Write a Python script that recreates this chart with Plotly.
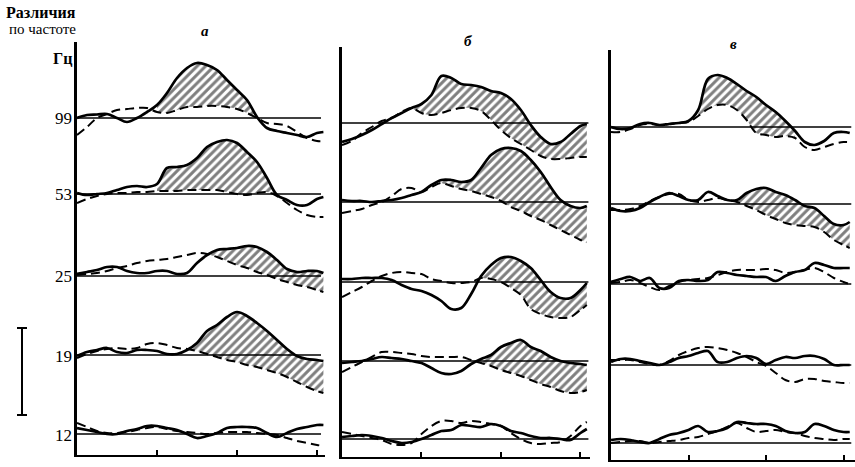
import plotly.graph_objects as go

W, H = 855, 467

# sample times (tick units: ticks at 1, 2, 3)
t = [0, 0.125, 0.25, 0.375, 0.5, 0.625, 0.75, 0.875, 1.0, 1.125, 1.25, 1.375, 1.5,
     1.625, 1.75, 1.875, 2.0, 2.125, 2.25, 2.375, 2.5, 2.625, 2.75, 2.875, 3.0, 3.08]

channels = ["99", "53", "25", "19", "12"]

# ---- panel а: deviations (solid / dashed)
a99_s = [0, 0.6, 0.7, 0.8, 0, -0.8, 0, 1.2, 2.6, 5.0, 8.0, 10.0, 11.0, 10.6, 9.6, 7.6, 5.6, 3.6, 0.2, -2.0, -2.6, -3.0, -3.4, -3.8, -3.0, -2.8]
a99_d = [-3.4, -1.8, 0, 0.8, 1.6, 1.8, 2.0, 2.0, 1.2, 1.0, 1.6, 2.2, 2.2, 2.4, 2.4, 2.2, 1.8, 1.0, 0, -1.0, -1.2, -1.6, -2.8, -4.0, -4.6, -4.6]
a53_s = [0.2, -0.2, 0, 0.2, 0.8, 1.4, 1.6, 1.4, 2.0, 5.2, 5.4, 5.8, 7.2, 9.4, 10.4, 10.8, 10.2, 8.4, 6.4, 3.2, -0.2, -1.2, -2.2, -2.2, -1.0, -0.6]
a53_d = [-1.8, -1.0, -0.4, 0, 0.2, 0.2, 0.4, 0.4, 0.6, 0.6, 0.6, 0.8, 0.8, 0.8, 0.8, 0.4, 0, -0.2, 0.2, 0.4, -0.4, -1.8, -3.2, -4.2, -4.6, -4.6]
a25_s = [0.4, 0.8, 1.2, 1.8, 1.8, 1.0, 0.6, 0.6, 1.0, 1.0, 0.4, 0.6, 2.6, 4.2, 5.2, 5.4, 5.6, 6.0, 5.8, 4.8, 3.2, 1.4, 0.8, 1.0, 1.0, 0.6]
a25_d = [0.2, 0.4, 0.6, 1.0, 1.6, 2.0, 2.6, 3.0, 3.2, 3.4, 3.8, 4.2, 4.6, 4.4, 3.8, 3.0, 2.2, 1.6, 0.8, 0.2, -0.6, -1.2, -1.8, -2.2, -2.8, -3.2]
a19_s = [-0.2, 0.6, 1.0, 1.4, 0.6, 0.4, 1.0, 1.0, 0.8, 0.2, 0.2, 1.0, 2.4, 4.8, 6.0, 7.6, 8.6, 7.8, 6.4, 4.8, 3.0, 1.2, -0.2, -0.8, -1.0, -1.2]
a19_d = [-0.6, 0.2, 0.8, 1.2, 1.4, 1.2, 1.4, 2.2, 2.4, 2.0, 1.4, 1.2, 0.8, 0.2, -0.4, -1.0, -1.4, -2.0, -2.4, -3.0, -3.6, -4.4, -5.4, -6.4, -7.2, -7.6]
a12_s = [1.2, 0.8, 0.4, 0, 0, 0.6, 1.0, 1.6, 1.6, 1.2, 0.8, 0, -0.8, -0.4, 0.2, 1.2, 1.4, 1.4, 1.2, 0.2, -0.6, 0.2, 1.0, 1.4, 1.8, 1.8]
a12_d = [2.2, 1.4, 0.6, 0.2, 0.2, 0.4, 0.8, 1.2, 1.4, 1.0, 0.6, 0.4, 0.2, 0, 0.2, 0.4, 0.4, 0.4, 0.2, 0, -0.2, -0.8, -1.4, -1.8, -2.2, -2.4]

# ---- panel б
b99_s = [-3.8, -3.2, -2.4, -1.4, -0.2, 1.0, 2.0, 3.0, 3.8, 5.6, 9.4, 9.0, 7.8, 7.6, 7.2, 6.4, 6.0, 4.8, 2.6, -0.4, -2.8, -4.2, -3.8, -2.2, -0.6, -0.2]
b99_d = [-4.4, -3.6, -2.0, -0.8, 0.4, 1.0, 2.2, 3.0, 2.0, 1.6, 2.0, 2.6, 3.0, 3.0, 2.4, 0.6, -1.4, -3.0, -4.2, -5.4, -6.6, -7.2, -7.2, -7.0, -6.8, -6.8]
b53_s = [0.4, 0.2, 0.2, 0, 0.2, 0.4, 0.8, 1.4, 2.0, 3.4, 4.4, 4.4, 4.0, 4.4, 6.8, 9.4, 10.6, 10.8, 10.2, 8.4, 6.0, 3.0, 0.4, -0.8, -1.2, -0.8]
b53_d = [-2.2, -1.8, -1.4, -0.6, 0, 1.2, 2.6, 2.8, 2.0, 3.0, 3.8, 3.2, 2.6, 2.2, 1.6, 1.0, 0.2, -1.0, -1.8, -2.8, -3.6, -4.6, -5.6, -6.6, -7.6, -8.2]
b25_s = [0.6, 0.6, 0.8, 0.8, 0.8, 0.4, -0.6, -1.4, -1.8, -2.6, -3.8, -5.4, -5.2, -2.4, 1.2, 3.4, 4.8, 5.0, 4.2, 2.8, 0.4, -2.0, -3.2, -3.2, -1.6, -0.2]
b25_d = [-3.0, -2.0, -1.0, 0.2, 1.2, 1.8, 2.0, 1.8, 1.6, 0.6, 0.2, -0.2, -0.2, 0, 0.8, 0.6, 0, -1.2, -2.6, -5.4, -6.4, -7.0, -7.2, -7.0, -5.6, -4.6]
b19_s = [-0.4, -0.2, 0, 0.4, 0.8, 0.6, 0.4, 0, -0.4, -1.4, -2.4, -2.6, -2.0, -0.6, 0.4, 1.2, 2.8, 3.6, 4.2, 2.8, 2.0, 0.8, 0, -0.4, -0.6, -0.8]
b19_d = [-2.2, -1.2, -0.2, 0.8, 1.8, 1.8, 1.6, 1.4, 1.0, 0.8, 0.8, 0.8, 0.8, 0.2, -0.4, -1.0, -1.8, -2.4, -3.0, -3.8, -4.6, -5.2, -6.0, -6.4, -6.2, -5.8]
b12_s = [0.4, 0.6, 0.8, 0.6, 0.2, -0.4, -0.8, -0.6, 0, 0.8, 1.6, 1.8, 2.8, 2.6, 2.4, 3.0, 2.6, 1.6, 1.2, 0.6, 0.2, 0.2, 0, -0.2, 1.2, 2.0]
b12_d = [1.4, 1.0, 0.6, 0.2, -0.2, -1.0, -1.2, -0.8, 1.0, 2.6, 3.6, 3.6, 3.2, 3.6, 3.4, 3.0, 2.6, 1.2, 0, -0.8, -1.0, -0.8, -0.6, 0.6, 2.6, 3.4]

# ---- panel в
c99_s = [0, -0.4, -0.2, 0.6, 0.8, 0.4, 0.6, 0.8, 1.2, 3.4, 9.6, 10.4, 9.8, 8.6, 7.2, 6.0, 4.4, 3.0, 1.2, -0.8, -3.0, -3.6, -2.8, -1.2, -1.0, -1.2]
c99_d = [-1.0, -1.0, -0.4, 0.4, 0.6, 0.4, 0.6, 0.8, 1.0, 2.2, 3.6, 4.4, 4.4, 3.4, 1.4, -1.2, -1.6, -2.0, -1.8, -2.2, -4.0, -4.6, -4.0, -3.4, -3.0, -3.0]
c53_s = [-0.8, -1.4, -1.4, -0.8, 0.4, 1.4, 2.2, 1.6, 0.8, 0.8, 2.4, 1.6, 0.8, 0.8, 2.2, 3.0, 3.2, 2.4, 1.8, 0.8, -0.4, -0.8, -2.4, -4.0, -4.2, -3.6]
c53_d = [-1.2, -1.2, -1.0, -0.4, 0.6, 1.4, 2.0, 2.0, 0.8, 0.4, 0.8, 1.2, 0.8, 0.4, -0.4, -1.2, -2.2, -3.0, -3.8, -4.2, -4.4, -4.6, -5.6, -7.2, -8.2, -8.8]
c25_s = [0.4, 1.0, 1.4, 0.6, 1.2, -0.8, -0.8, 0.6, 0.8, 0.6, 0.8, 2.4, 2.2, 1.8, 1.6, 1.4, 1.4, 0.6, 1.6, 2.4, 2.8, 4.2, 3.8, 3.2, 3.2, 3.2]
c25_d = [0.2, 0.4, 0.8, 0.2, -0.6, -1.2, -0.4, 0.4, 0.8, 1.0, 1.2, 1.8, 2.4, 2.8, 2.8, 2.8, 3.0, 2.8, 2.2, 2.4, 2.8, 3.2, 2.4, 1.2, 0.4, 0]
c19_s = [0.6, 1.2, 1.2, 0.8, 0.4, 0, 0.6, 1.4, 1.8, 2.4, 2.8, 0.6, 0.6, 1.4, 1.8, 1.4, 0.2, 1.0, 1.6, 1.4, 1.8, 1.8, 1.2, 0, 0, 0]
c19_d = [1.0, 1.0, 1.0, 0.6, 0.2, 0, 0.8, 2.0, 2.8, 3.4, 3.6, 3.4, 3.0, 2.4, 1.6, 0.6, -0.2, -1.6, -3.0, -3.4, -2.8, -2.8, -3.2, -3.4, -3.6, -3.6]
c12_s = [0.6, 0.8, 0.6, 0.2, 0, 0.8, 1.6, 2.0, 2.6, 3.4, 2.2, 2.4, 3.0, 4.2, 4.0, 3.8, 3.8, 3.4, 2.4, 2.0, 2.2, 3.8, 3.4, 2.6, 2.2, 2.2]
c12_d = [0, 0.2, 0.4, 0.4, 0, 0.2, 0.4, 0.6, 1.0, 1.2, 1.8, 2.4, 3.2, 4.0, 3.0, 2.2, 2.4, 2.6, 2.2, 2.0, 1.4, 1.0, 0.8, 0.6, 0.8, 0.8]

# baseline levels of each channel (same units)
a_base = [67.4, 52.2, 35.8, 20.0, 4.2]
b_base = [66.8, 51.0, 35.0, 19.2, 3.6]
c_base = [66.6, 51.2, 35.2, 19.0, 3.4]

# hatched (significant difference) spans, as sample index ranges
a_hatch = {"99": (8, 18), "53": (8, 20), "25": (13, 25), "19": (11, 25)}
b_hatch = {"99": (7, 25), "53": (10, 25), "25": (14, 25), "19": (14, 25)}
c_hatch = {"99": (9, 19), "53": (13, 25)}

panel_letters = ["а", "б", "в"]

panels = [
    dict(ax="", s=[a99_s, a53_s, a25_s, a19_s, a12_s], d=[a99_d, a53_d, a25_d, a19_d, a12_d],
         base=a_base, hatch=a_hatch, xpx=(77, 325), xr=(0, 3.1), ypx=(42, 455), yr=(0, 82.6), end=3.05),
    dict(ax="2", s=[b99_s, b53_s, b25_s, b19_s, b12_s], d=[b99_d, b53_d, b25_d, b19_d, b12_d],
         base=b_base, hatch=b_hatch, xpx=(342, 590), xr=(0, 3.12), ypx=(47, 457), yr=(0, 82), end=3.1),
    dict(ax="3", s=[c99_s, c53_s, c25_s, c19_s, c12_s], d=[c99_d, c53_d, c25_d, c19_d, c12_d],
         base=c_base, hatch=c_hatch, xpx=(611, 855), xr=(0, 3.148), ypx=(50, 460), yr=(0, 82), end=3.1),
]

fig = go.Figure()
layout = {}
for p in panels:
    xa, ya = "x" + p["ax"], "y" + p["ax"]
    for ci, ch in enumerate(channels):
        off = p["base"][ci]
        ys = [off + v for v in p["s"][ci]]
        yd = [off + v for v in p["d"][ci]]
        fig.add_trace(go.Scatter(x=[0, p["end"]], y=[off, off], mode="lines",
                                 line=dict(color="black", width=1.3), xaxis=xa, yaxis=ya,
                                 hoverinfo="skip"))
        if ch in p["hatch"]:
            i0, i1 = p["hatch"][ch]
            fig.add_trace(go.Scatter(x=t[i0:i1 + 1], y=yd[i0:i1 + 1], mode="lines",
                                     line=dict(width=0, shape="spline"), xaxis=xa, yaxis=ya,
                                     hoverinfo="skip"))
            fig.add_trace(go.Scatter(x=t[i0:i1 + 1], y=ys[i0:i1 + 1], mode="lines",
                                     line=dict(width=0, shape="spline"), fill="tonexty",
                                     fillcolor="rgba(0,0,0,0)",
                                     fillpattern=dict(shape="/", fgcolor="black",
                                                      bgcolor="rgba(0,0,0,0)", size=6, solidity=0.5),
                                     xaxis=xa, yaxis=ya, hoverinfo="skip"))
        fig.add_trace(go.Scatter(x=t, y=yd, mode="lines",
                                 line=dict(color="black", width=2.0, dash="9px,5px", shape="spline"),
                                 xaxis=xa, yaxis=ya, hoverinfo="skip"))
        fig.add_trace(go.Scatter(x=t, y=ys, mode="lines",
                                 line=dict(color="black", width=2.7, shape="spline"),
                                 xaxis=xa, yaxis=ya, hoverinfo="skip"))
    layout["xaxis" + p["ax"]] = dict(domain=[p["xpx"][0] / W, p["xpx"][1] / W], range=list(p["xr"]),
                                     anchor=ya, showline=True, linecolor="black", linewidth=1.8,
                                     ticks="inside", tickvals=[1, 2, 3], ticklen=5, tickwidth=1.5,
                                     tickcolor="black", showticklabels=False, showgrid=False,
                                     zeroline=False, fixedrange=True)
    layout["yaxis" + p["ax"]] = dict(domain=[1 - p["ypx"][1] / H, 1 - p["ypx"][0] / H], range=list(p["yr"]),
                                     anchor=xa, showline=True, linecolor="black", linewidth=2.8,
                                     ticks="", showticklabels=False, showgrid=False, zeroline=False,
                                     fixedrange=True)

serif = "Liberation Serif, Times New Roman, Times, serif"
ann = []
def px_note(text, x, y, size, xanchor="center", bold=False):
    ann.append(dict(text=("<b>%s</b>" % text) if bold else text, x=x / W, y=1 - y / H,
                    xref="paper", yref="paper", xanchor=xanchor, yanchor="middle",
                    showarrow=False, font=dict(family=serif, size=size, color="black")))

px_note("Различия", 41, 13, 16, bold=True)
px_note("по частоте", 42, 29, 15)
px_note("Гц", 62, 58, 16, bold=True)
label_y = [118, 194, 276, 356, 435]
for lab, yy in zip(channels, label_y):
    px_note(lab, 74, yy, 17, xanchor="right")
for letter, (lx, ly) in zip(panel_letters, [(205, 31), (468, 41), (733, 44)]):
    px_note("<b><i>%s</i></b>" % letter, lx, ly, 15)

shapes = [
    dict(type="line", xref="paper", yref="paper", x0=22 / W, x1=22 / W, y0=1 - 328 / H, y1=1 - 415 / H,
         line=dict(color="black", width=2)),
    dict(type="line", xref="paper", yref="paper", x0=17 / W, x1=27 / W, y0=1 - 328 / H, y1=1 - 328 / H,
         line=dict(color="black", width=2)),
    dict(type="line", xref="paper", yref="paper", x0=17 / W, x1=27 / W, y0=1 - 415 / H, y1=1 - 415 / H,
         line=dict(color="black", width=2)),
]

fig.update_layout(width=W, height=H, margin=dict(l=0, r=0, t=0, b=0), showlegend=False,
                  paper_bgcolor="white", plot_bgcolor="white", annotations=ann, shapes=shapes,
                  **layout)
fig.write_html("out.html", config={"displayModeBar": False},
               post_script="document.body.style.margin='0px';")
